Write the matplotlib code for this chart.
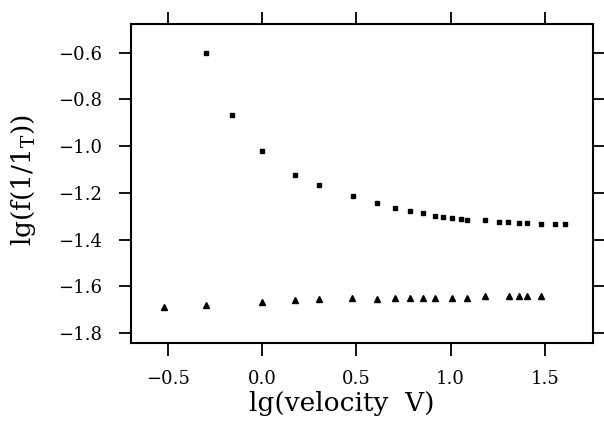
import matplotlib as mpl

mpl.use("Agg")
import matplotlib.pyplot as plt

# squares: upper series
LGV_SQ = [-0.30, -0.16, 0.00, 0.177, 0.302, 0.481, 0.608, 0.704, 0.785, 0.852,
          0.916, 0.962, 1.010, 1.054, 1.086, 1.185, 1.259, 1.307, 1.365, 1.404,
          1.482, 1.553, 1.609]
LGF_SQ = [-0.600, -0.867, -1.020, -1.122, -1.167, -1.214, -1.242, -1.264, -1.278, -1.288,
          -1.298, -1.302, -1.308, -1.312, -1.314, -1.318, -1.324, -1.325, -1.328, -1.329,
          -1.334, -1.334, -1.335]

# triangles: lower series
LGV_TRI = [-0.52, -0.30, 0.00, 0.175, 0.302, 0.479, 0.608, 0.704, 0.785, 0.852,
           0.916, 1.006, 1.086, 1.185, 1.309, 1.363, 1.404, 1.482]
LGF_TRI = [-1.688, -1.679, -1.665, -1.658, -1.655, -1.652, -1.653, -1.651, -1.652, -1.651,
           -1.651, -1.648, -1.648, -1.643, -1.643, -1.643, -1.642, -1.642]

XTICKS = [-0.5, 0.0, 0.5, 1.0, 1.5]
YTICKS = [-0.6, -0.8, -1.0, -1.2, -1.4, -1.6, -1.8]

mpl.rcParams.update({
    "font.family": "serif",
    "font.serif": ["DejaVu Serif", "Liberation Serif"],
    "mathtext.fontset": "dejavuserif",
})

fig = plt.figure(figsize=(6.04, 4.21), dpi=100)
ax = fig.add_axes([0.217, 0.185, 0.765, 0.758])

ax.plot(LGV_SQ, LGF_SQ, ls="none", marker="s", ms=3.5, color="black")
ax.plot(LGV_TRI, LGF_TRI, ls="none", marker="^", ms=3.9, color="black")

ax.set_xlim(-0.695, 1.756)
ax.set_ylim(-1.843, -0.477)
ax.set_xticks(XTICKS)
ax.set_xticklabels([f"{v:.1f}".replace("-", "\u2212") for v in XTICKS])
ax.set_yticks(YTICKS)
ax.set_yticklabels([f"{v:.1f}".replace("-", "\u2212") for v in YTICKS])

ax.tick_params(direction="out", length=9, width=1.3, labelsize=13,
               top=True, right=True)
ax.tick_params(axis="x", pad=10)
ax.tick_params(axis="y", pad=12)
for sp in ax.spines.values():
    sp.set_linewidth(1.5)

ax.set_xlabel("lg(velocity  V)", fontsize=19)
ax.xaxis.set_label_coords(0.457, -0.15)
ax.set_ylabel(r"lg(f(1/1$_{\mathrm{T}}$))", fontsize=19)
ax.yaxis.set_label_coords(-0.201, 0.511)

fig.savefig("out.png", dpi=100)
